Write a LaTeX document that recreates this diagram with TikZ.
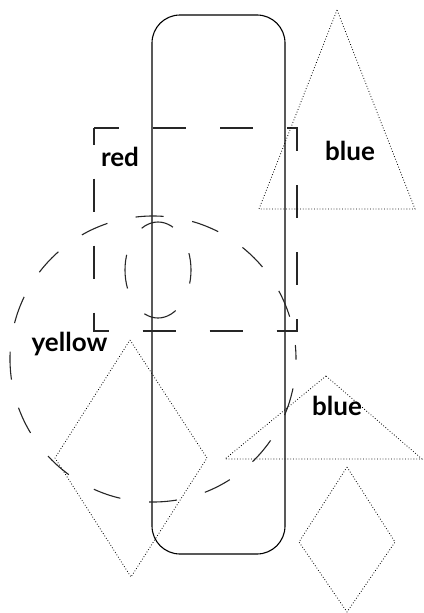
\documentclass[tikz,border=0pt]{standalone}
\usepackage{fontspec}
\setmainfont{Lato}
\begin{document}
\begin{tikzpicture}[x=1pt,y=-1pt,
  solidline/.style={draw=black,line width=1.1pt},
  longdash/.style={draw=black!85,line width=1.1pt},
  dotline/.style={draw=black,line width=0.8pt,dash pattern=on 0.8pt off 2pt},
  lbl/.style={font=\bfseries\fontsize{26}{30}\selectfont,anchor=base,inner sep=0pt}]
\useasboundingbox (0,0) rectangle (423,613);
% rounded column
\draw[solidline,rounded corners=28pt] (152,15) rectangle (285,554);
% dashed square
\draw[longdash,dash pattern=on 33pt off 34pt,dash phase=16.5pt] (94,128) rectangle (297,331);
% small dashed ellipse
\draw[longdash,dash pattern=on 34pt off 31pt,dash phase=17pt] (158,270) ellipse [x radius=33pt,y radius=48pt];
% big dashed circle
\draw[longdash,dash pattern=on 28pt off 29pt,dash phase=14pt] (153,359) circle [radius=143pt];
% dotted triangles
\draw[dotline] (337,10) -- (259,209) -- (415,209) -- cycle;
\draw[dotline] (326,376) -- (225,459) -- (422,459) -- cycle;
% dotted diamonds
\draw[dotline] (130,340) -- (207,458) -- (131,577) -- (55,458) -- cycle;
\draw[dotline] (347,467) -- (395,542) -- (347,612) -- (299,542) -- cycle;
% labels
\node[lbl] (red) at (120,166.5) {red};
\node[lbl] (yellow) at (69.5,351) {yellow};
\node[lbl] (blue1) at (350,160) {blue};
\node[lbl] (blue2) at (337,415) {blue};
\end{tikzpicture}
\end{document}
